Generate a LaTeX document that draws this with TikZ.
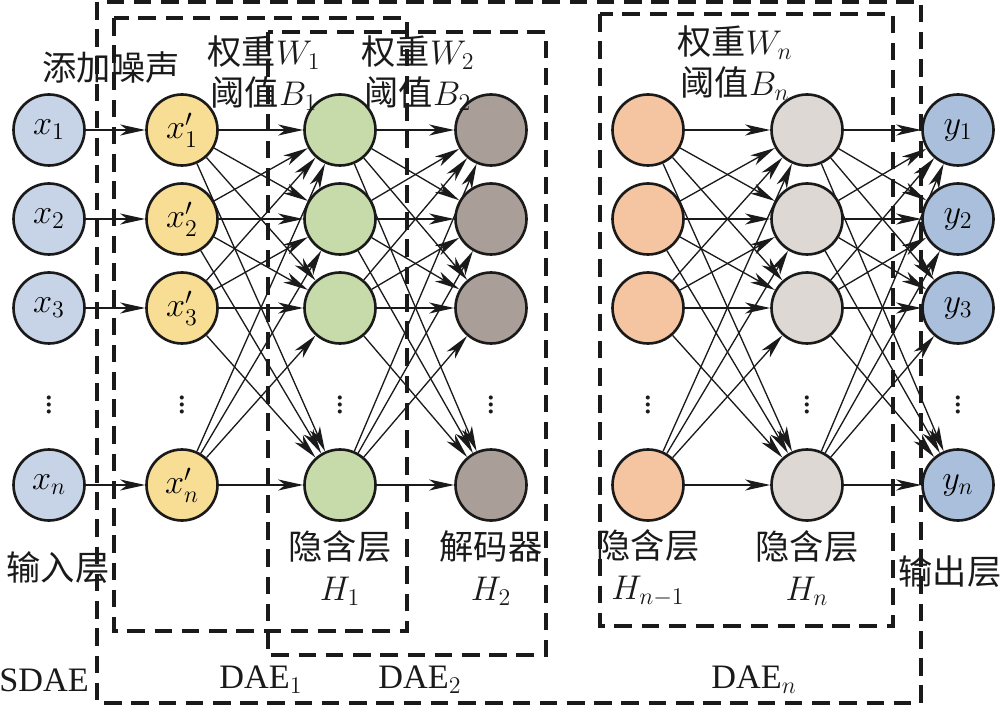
\RequirePackage{fix-cm}
\documentclass[tikz,border=0pt]{standalone}
\usepackage{fontspec}
\setmainfont{Liberation Serif}
\newfontfamily\cjk{Noto Sans CJK SC}
\usepackage{tikz}
\usepackage{xcolor}
\usetikzlibrary{
    arrows.meta,
    positioning
}
\definecolor{ink}{HTML}{1A1A1A}
\definecolor{inputfill}{HTML}{C7D4E7}
\definecolor{noisefill}{HTML}{F8DE95}
\definecolor{hiddenfill}{HTML}{C6DBA9}
\definecolor{decoderfill}{HTML}{A99F98}
\definecolor{prevfill}{HTML}{F5C5A2}
\definecolor{lastfill}{HTML}{DED8D4}
\definecolor{outputfill}{HTML}{AABFDB}
\tikzset{
    % Neuron style
    neuron/.style={
        circle,
        minimum size=1.42cm,
        inner sep=0pt,
        draw=ink,
        fill=#1,
        line width=1.5pt,
        font=\fontsize{19.5}{23}\selectfont
    },
    % Connection style
    link/.style={
        -{Stealth[length=5mm, width=2.2mm, inset=1.4mm]},
        line width=0.75pt,
        color=ink
    },
    % Dashed box style
    dae box/.style={
        dash pattern=on 10pt off 5.5pt,
        line width=1.8pt,
        draw=ink
    },
    % Label style
    label text/.style={
        font=\fontsize{19.5}{23}\selectfont,
        text=ink,
        align=center,
        inner sep=0pt
    }
}
\begin{document}
\begin{tikzpicture}[x=0.02cm, y=-0.02cm]
        \useasboundingbox (0,0) rectangle (1000,709);
        
        % Dashed boxes
        \draw[dae box] (97,2) rectangle (921,703);
        \draw[dae box] (114,18) rectangle (407,631);
        \draw[dae box] (268,32) rectangle (546,655);
        \draw[dae box] (600,14) rectangle (893,626);
        
        % Neurons
        \foreach \r/\yy/\s in {1/130/1, 2/219/2, 3/308/3, 4/485/n} {
            \node[neuron=inputfill] (in\r) at (49,\yy) {$x_{\s}$};
            \node[neuron=noisefill] (nz\r) at (182,\yy) {$x'_{\s}$};
            \node[neuron=hiddenfill] (hid\r) at (340,\yy) {};
            \node[neuron=decoderfill] (dec\r) at (491,\yy) {};
            \node[neuron=prevfill] (pre\r) at (648,\yy) {};
            \node[neuron=lastfill] (last\r) at (807,\yy) {};
            \node[neuron=outputfill] (out\r) at (958,\yy) {$y_{\s}$};
        }
        
        % Ellipses
        \foreach \cx/\nm in {49/in, 182/nz, 340/hid, 491/dec, 648/pre, 807/last, 958/out}
            \node[label text] (\nm dots) at (\cx,400) {$\vdots$};
        
        % Noise arrows
        \foreach \r in {1,2,3,4}
            \draw[link] (in\r) -- (nz\r);
        
        % Full connections
        \foreach \a in {1,2,3,4} {
            \foreach \b in {1,2,3,4} {
                \draw[link] (nz\a) -- (hid\b);
                \draw[link] (hid\a) -- (dec\b);
                \draw[link] (pre\a) -- (last\b);
                \draw[link] (last\a) -- (out\b);
            }
        }
        
        % Top labels
        \node[label text] (noise) at (111,68) {{\cjk 添加噪声}};
        \node[label text] (wb1) at (264,73) {{\cjk 权重}$W_1$\\{\cjk 阈值}$B_1$};
        \node[label text] (wb2) at (418,73) {{\cjk 权重}$W_2$\\{\cjk 阈值}$B_2$};
        \node[label text] (wbn) at (735,63) {{\cjk 权重}$W_n$\\{\cjk 阈值}$B_n$};
        
        % Layer labels
        \node[label text] (inlabel) at (58,568) {{\cjk 输入层}};
        \node[label text] (hidlabel) at (340,568) {{\cjk 隐含层}\\$H_1$};
        \node[label text] (declabel) at (491,568) {{\cjk 解码器}\\$H_2$};
        \node[label text] (prelabel) at (648,568) {{\cjk 隐含层}\\$H_{n-1}$};
        \node[label text] (lastlabel) at (807,568) {{\cjk 隐含层}\\$H_n$};
        \node[label text] (outlabel) at (950,572) {{\cjk 输出层}};
        
        % Box names
        \node[label text] (sdae) at (44,680) {SDAE};
        \node[label text] (dae1) at (261,680) {DAE$_1$};
        \node[label text] (dae2) at (420,680) {DAE$_2$};
        \node[label text] (daen) at (754,680) {DAE$_n$};
        
    \end{tikzpicture}
\end{document}
